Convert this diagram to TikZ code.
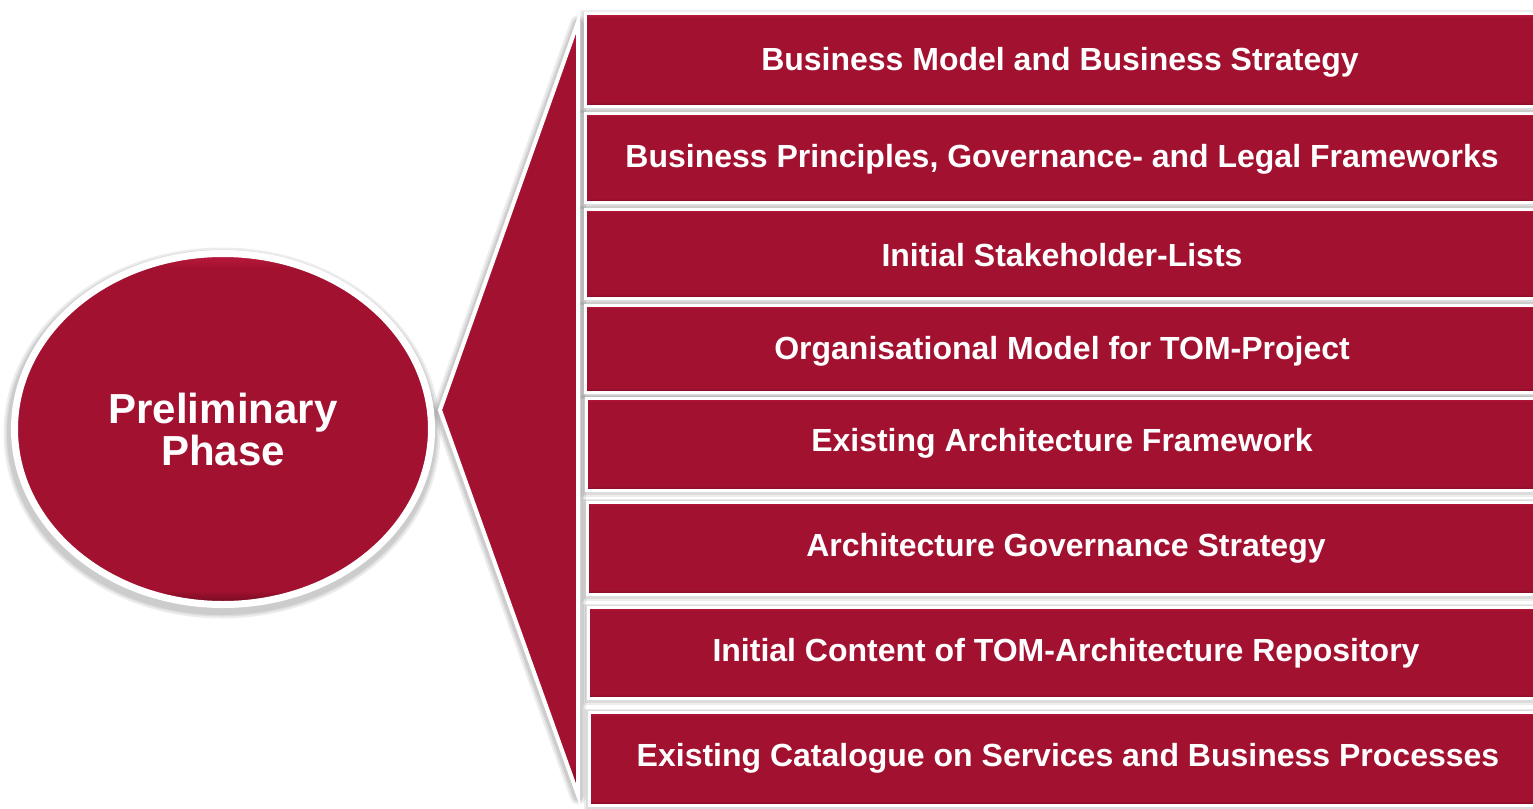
\documentclass[tikz,border=0pt]{standalone}
\usepackage{fontspec}
\setmainfont{Liberation Sans}
\usetikzlibrary{shapes.geometric}
\definecolor{crim}{RGB}{163,17,48}
\definecolor{crimlight}{RGB}{190,26,62}
\definecolor{crimdark}{RGB}{108,10,30}
\pgfdeclareverticalshading{bevel}{100bp}{color(0bp)=(crimdark); color(25bp)=(crimdark); color(27bp)=(crim); color(73bp)=(crim); color(75bp)=(crimlight); color(100bp)=(crimlight)}
\tikzset{
  redshape/.style={draw=white, shade, shading=bevel},
  halo/.style={draw=black, draw opacity=0.07, fill=none},
  bar/.style={redshape, rectangle, line width=3pt, inner sep=0pt},
  barhalo/.style={halo, rectangle, inner sep=0pt},
  bartext/.style={text=white, font=\bfseries\fontsize{32}{36}\selectfont, inner sep=0pt},
}
\begin{document}
\begin{tikzpicture}[x=1pt,y=-1pt]
\useasboundingbox (0,0) rectangle (1533,808);
\fill[white] (0,0) rectangle (1533,808);
% halos (soft shadows)
\foreach \lw in {16,12,9}{
  \path[halo, line width=\lw pt, line join=round, transform canvas={yshift=-1.5pt}] (440,410) -- (578,22) -- (578,795) -- cycle;
  \path[halo, line width=\lw pt+4pt, transform canvas={yshift=-2pt}] (222,431) ellipse [x radius=208.5, y radius=175.5];
}
\foreach \i/\L/\T/\B in {1/585/14/106, 2/585/113/202, 3/585/209/298, 4/585/305/392,
                          5/586/398/490, 6/587/502/594, 7/588/607/698, 8/589/712/805}{
  \pgfmathsetmacro{\cx}{(\L+1545)/2}
  \pgfmathsetmacro{\cy}{(\T+\B)/2+1.5}
  \pgfmathsetmacro{\w}{1545-\L}
  \pgfmathsetmacro{\h}{\B-\T}
  \foreach \lw in {10,7}{
    \node[barhalo, line width=\lw pt, minimum width=\w pt, minimum height=\h pt] at (\cx,\cy) {};
  }
}
% triangle connecting ellipse and bars
\path[redshape, line width=4pt, line join=miter] (440,410) -- (578,22) -- (578,795) -- cycle;
% ellipse
\node[redshape, ellipse, line width=7pt, minimum width=417pt, minimum height=351pt, inner sep=0pt,
      text=white, align=center, font=\bfseries\fontsize{42}{42}\selectfont] (pp) at (223,429) {Preliminary\\Phase};
% bars
\foreach \i/\L/\T/\B in {1/585/14/106, 2/585/113/202, 3/585/209/298, 4/585/305/392,
                          5/586/398/490, 6/587/502/594, 7/588/607/698, 8/589/712/805}{
  \pgfmathsetmacro{\cx}{(\L+1545)/2}
  \pgfmathsetmacro{\cy}{(\T+\B)/2}
  \pgfmathsetmacro{\w}{1545-\L}
  \pgfmathsetmacro{\h}{\B-\T}
  \node[bar, minimum width=\w pt, minimum height=\h pt] (b\i) at (\cx,\cy) {};
}
\node[bartext] (t1) at (1060,62) {Business Model and Business Strategy};
\node[bartext] (t2) at (1062,159) {Business Principles, Governance- and Legal Frameworks};
\node[bartext] (t3) at (1062,255) {Initial Stakeholder-Lists};
\node[bartext] (t4) at (1062,351) {Organisational Model for TOM-Project};
\node[bartext] (t5) at (1062,443) {Existing Architecture Framework};
\node[bartext] (t6) at (1066,548) {Architecture Governance Strategy};
\node[bartext] (t7) at (1066,653) {Initial Content of TOM-Architecture Repository};
\node[bartext] (t8) at (1068,758) {Existing Catalogue on Services and Business Processes};
\end{tikzpicture}
\end{document}
